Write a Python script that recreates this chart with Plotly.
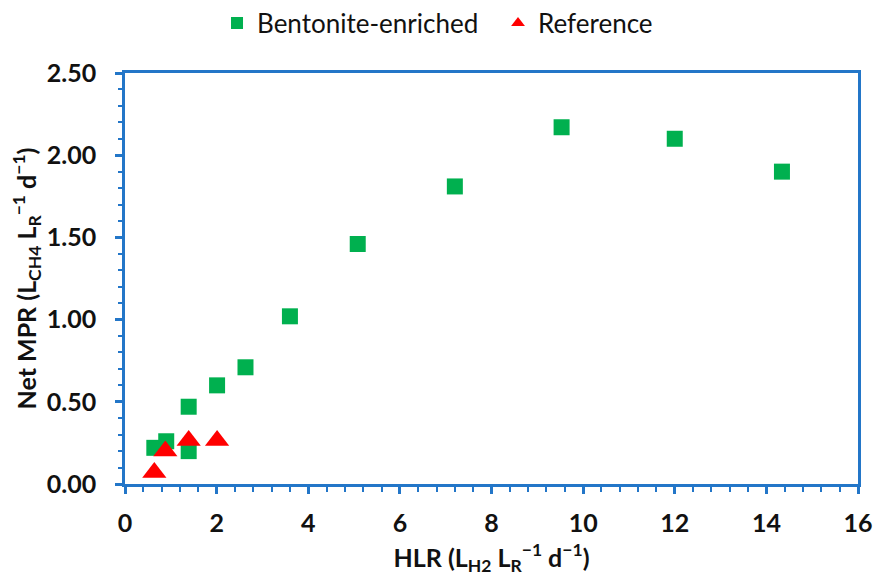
import plotly.graph_objects as go

# Data
bent_x = [0.64, 0.90, 1.39, 1.39, 2.01, 2.63, 3.60, 5.08, 7.20, 9.53, 12.0, 14.34]
bent_y = [0.22, 0.26, 0.47, 0.20, 0.60, 0.71, 1.02, 1.46, 1.81, 2.17, 2.10, 1.90]
ref_x = [0.64, 0.88, 1.39, 2.01]
ref_y = [0.07, 0.20, 0.265, 0.265]

AX = "#2376C8"
FONT = "Lato, 'Open Sans', sans-serif"

fig = go.Figure()
fig.add_trace(go.Scatter(x=bent_x, y=bent_y, mode="markers", name="Bentonite-enriched",
                         marker=dict(symbol="square", size=16, color="#00B04F")))
fig.add_trace(go.Scatter(x=ref_x, y=ref_y, mode="markers", name="Reference",
                         marker=dict(symbol="triangle-up", size=21, color="#FF0000")))

fig.update_layout(
    width=874, height=576,
    paper_bgcolor="white", plot_bgcolor="white",
    margin=dict(l=125, r=16, t=73, b=92, autoexpand=False),
    font=dict(family=FONT, size=25, color="#111111"),
    showlegend=True,
    legend=dict(orientation="h", xref="container", x=0.2483, xanchor="left",
                yref="container", y=1 - 23 / 576, yanchor="middle", entrywidth=236,
                font=dict(size=26, family=FONT, color="#111111"), itemsizing="constant", itemwidth=30,
                bgcolor="rgba(0,0,0,0)"),
    xaxis=dict(range=[0, 16], dtick=2, tick0=0, showgrid=False, zeroline=False, automargin=True,
               showline=True, linecolor=AX, linewidth=2.5, mirror=True,
               ticks="outside", ticklen=7, tickwidth=2.5, tickcolor=AX, ticklabelstandoff=8,
               minor=dict(dtick=0.4, tick0=0, ticks="outside", ticklen=5, tickwidth=2, tickcolor=AX),
               tickfont=dict(size=25, family=FONT, weight="bold"),
               title=dict(text="HLR (L<sub>H2</sub> L<sub>R</sub><sup>\u22121</sup> d<sup>\u22121</sup>)",
                          font=dict(size=25, family=FONT, weight="bold"), standoff=17)),
    yaxis=dict(range=[0, 2.5], dtick=0.5, tick0=0, tickformat=".2f", showgrid=False, zeroline=False,
               automargin=True,
               showline=True, linecolor=AX, linewidth=2.5, mirror=True,
               ticks="outside", ticklen=7, tickwidth=2.5, tickcolor=AX, ticklabelstandoff=14,
               minor=dict(dtick=0.1, tick0=0, ticks="outside", ticklen=4, tickwidth=2, tickcolor=AX),
               tickfont=dict(size=25, family=FONT, weight="bold"),
               title=dict(text="Net MPR (L<sub>CH4</sub> L<sub>R</sub><sup>\u22121</sup> d<sup>\u22121</sup>)",
                          font=dict(size=25, family=FONT, weight="bold"), standoff=4)),
)

fig.write_html("out.html", config={"displayModeBar": False},
               post_script="document.body.style.margin='0px';")
